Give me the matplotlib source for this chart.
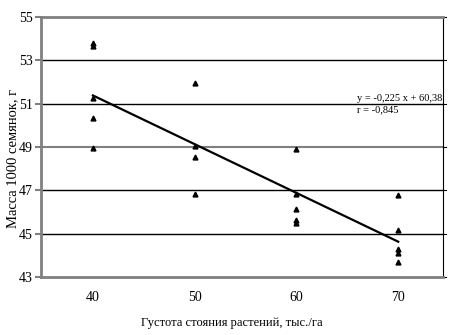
import matplotlib.pyplot as plt
import numpy as np

plt.rcParams['font.family'] = ['Liberation Serif', 'DejaVu Serif']

# density, thousand plants/ha
x40 = [40, 40, 40, 40, 40]
y40 = [53.8, 53.65, 51.25, 50.35, 48.95]
x50 = [50, 50, 50, 50]
y50 = [51.95, 49.05, 48.55, 46.85]
x60 = [60, 60, 60, 60, 60]
y60 = [48.9, 46.85, 46.15, 45.65, 45.5]
x70 = [70, 70, 70, 70, 70]
y70 = [46.8, 45.15, 44.3, 44.1, 43.7]

slope = -0.225
intercept = 60.38
fit_x = np.array([40, 70])

x_ticks = [40, 50, 60, 70]
y_ticks = [43, 45, 47, 49, 51, 53, 55]

fig = plt.figure(figsize=(4.5, 3.35), dpi=100)
ax = fig.add_axes([41 / 450, 1 - 277 / 335, 402 / 450, 260 / 335])

xs = x40 + x50 + x60 + x70
ys = y40 + y50 + y60 + y70
ax.plot(xs, ys, linestyle='none', marker='^', color='black', markersize=3.5)
ax.plot(fit_x, slope * fit_x + intercept, color='black', linewidth=1.6)

for v in [45, 47, 51, 53]:
    ax.axhline(v, color='black', linewidth=1.0, zorder=0)
ax.axhline(49, color='#808080', linewidth=1.5, zorder=0)

ax.set_xlim(34.9, 74.4)
ax.set_ylim(43, 55)
ax.set_xticks(x_ticks)
ax.set_yticks(y_ticks)
ax.tick_params(axis='x', length=0, labelsize=10, pad=10)
ax.tick_params(axis='y', length=4, width=1.5, color='#808080', labelsize=10, pad=2)

for side in ['left', 'bottom', 'top']:
    ax.spines[side].set_color('#808080')
    ax.spines[side].set_linewidth(2)
ax.spines['right'].set_color('black')
ax.spines['right'].set_linewidth(0.8)

# small outward ticks on the right edge
for v in y_ticks:
    ax.plot([74.4, 74.7], [v, v], color='black', linewidth=0.8, clip_on=False)

ax.set_ylabel('Масса 1000 семянок, г', fontsize=10.5)
ax.yaxis.set_label_coords(-0.055, 0.455)
ax.set_xlabel('Густота стояния растений, тыс./га', fontsize=9)
ax.xaxis.set_label_coords(0.475, -0.152)

ax.text(0.785, 0.664, 'y = -0,225 x + 60,38\nr = -0,845', transform=ax.transAxes,
        fontsize=7.5, va='center', ha='left', linespacing=1.4)

fig.savefig('out.png', dpi=100)
